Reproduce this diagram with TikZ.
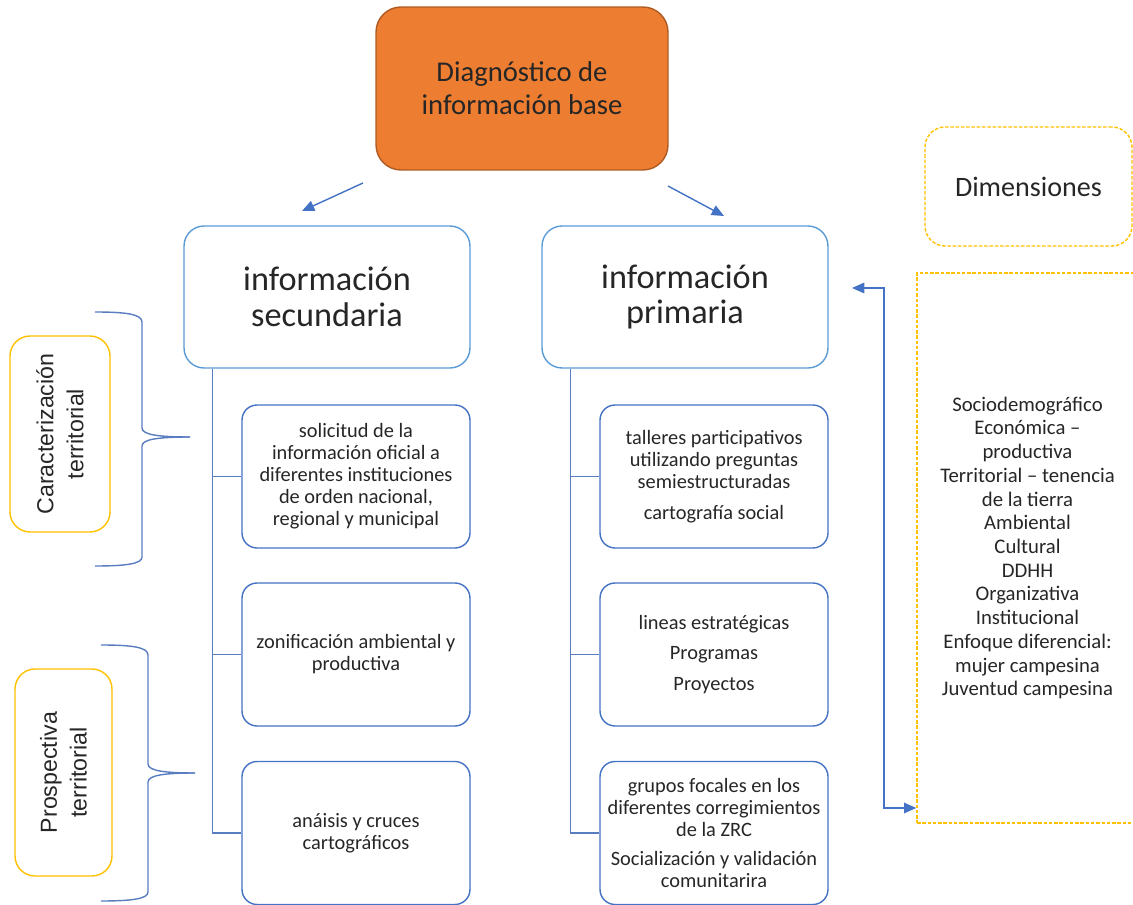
\documentclass[tikz,border=0pt]{standalone}
\usepackage{fontspec}
\setmainfont{Carlito}
\newfontfamily\sidefont{Liberation Sans}
\usepackage{xcolor}
\usetikzlibrary{arrows.meta}
\definecolor{diagfill}{HTML}{ED7D31}
\definecolor{diagline}{HTML}{AE5A21}
\definecolor{headline}{HTML}{5B9BD5}
\definecolor{itemline}{HTML}{4472C4}
\definecolor{sideline}{HTML}{FFC000}
\definecolor{treeline}{HTML}{5A7DC0}
\definecolor{txt}{HTML}{262626}

\begin{document}
\begin{tikzpicture}[x=0.02cm,y=-0.02cm,align=center,text=txt,
  top box/.style={draw=diagline,fill=diagfill,line width=0.8pt,rounded corners=0.5cm,minimum width=5.84cm,minimum height=3.26cm,font=\fontsize{16.3}{18.7}\selectfont},
  head box/.style={draw=headline,line width=0.8pt,rounded corners=0.4cm,minimum width=5.72cm,minimum height=2.84cm,font=\fontsize{19.5}{20.4}\selectfont},
  item box/.style={draw=itemline,line width=0.8pt,rounded corners=0.3cm,minimum width=4.56cm,minimum height=2.86cm,font=\fontsize{11.6}{12.5}\selectfont}]
\tikzstyle{side box} = [draw=sideline,line width=0.8pt,rounded corners=0.4cm,rotate=90,font=\sidefont\fontsize{13.2}{17}\selectfont]
\tikzstyle{dim box} = [draw=sideline,line width=0.8pt,dash pattern=on 2pt off 1pt]
\tikzstyle{tree} = [draw=treeline,line width=0.8pt]
\tikzstyle{link} = [draw=itemline,line width=0.8pt,-{Triangle[length=7pt,width=6pt]}]
\useasboundingbox (0,0) rectangle (1133,905);

% Main boxes
\node[top box] (diag) at (522,88.5) {Diagnóstico de\\información base};
\node[head box] (sec) at (327,297) {información\\secundaria};
\node[head box] (pri) at (685,297) {información\\primaria};

% Secondary information
\node[item box] (s1) at (356,476.5) {solicitud de la\\información oficial a\\diferentes instituciones\\de orden nacional,\\regional y municipal};
\node[item box] (s2) at (356,654.5) {zonificación ambiental y\\productiva};
\node[item box] (s3) at (356,833) {anáisis y cruces\\cartográficos};

% Primary information
\node[item box] (p1) at (714,476.5) {talleres participativos\\utilizando preguntas\\semiestructuradas\\[5pt]cartografía social};
\node[item box] (p2) at (714,654.5) {lineas estratégicas\\[5pt]Programas\\[5pt]Proyectos};
\node[item box] (p3) at (714,833) {grupos focales en los\\diferentes corregimientos\\de la ZRC\\[4pt]Socialización y validación\\comunitarira};

% Side labels
\node[side box,minimum width=3.92cm,minimum height=2cm] (car) at (60,434) {Caracterización\\territorial};
\node[side box,minimum width=4.14cm,minimum height=1.94cm] (pro) at (63.5,772.5) {Prospectiva\\territorial};

% Dimensions
\node[dim box,rounded corners=0.4cm,minimum width=4.14cm,minimum height=2.38cm,font=\fontsize{16}{18}\selectfont] (dimt) at (1028.5,186.5) {Dimensiones};
\node[dim box,minimum width=4.42cm,minimum height=11cm,font=\fontsize{11.8}{13.5}\selectfont] (dimp) at (1027.5,548) {Sociodemográfico\\Económica --\\productiva\\Territorial -- tenencia\\de la tierra\\Ambiental\\Cultural\\DDHH\\Organizativa\\Institucional\\Enfoque diferencial:\\mujer campesina\\Juventud campesina};

% Draw arrows
\coordinate (a1) at (363,183);
\coordinate (a2) at (302,211);
\coordinate (b1) at (668,186);
\coordinate (b2) at (724,216);
\draw[link] (a1) -- (a2);
\draw[link] (b1) -- (b2);
\coordinate (d1) at (852,288);
\coordinate (d2) at (884,808);
\draw[link,{Triangle[length=7pt,width=6pt]}-{Triangle[length=7pt,width=6pt]}] (d1) -| (d2) -- (d2 -| dimp.west);

% Draw trees
\coordinate (s0) at ([xshift=0.58cm]sec.south west);
\coordinate (p0) at ([xshift=0.58cm]pri.south west);
\draw[tree] (s0) |- (s1.west);
\draw[tree] (s0) |- (s2.west);
\draw[tree] (s0) |- (s3.west);
\draw[tree] (p0) |- (p1.west);
\draw[tree] (p0) |- (p2.west);
\draw[tree] (p0) |- (p3.west);

% Draw braces
\draw[tree] (95,312) .. controls (125,312) and (142,314) .. (142,322) -- (142,428) .. controls (142,435) and (160,437) .. (190,437);
\draw[tree] (190,437) .. controls (160,437) and (142,439) .. (142,446) -- (142,557) .. controls (142,564) and (125,566) .. (95,566);
\draw[tree] (101,645) .. controls (131,645) and (148,647) .. (148,655) -- (148,764) .. controls (148,771) and (166,773) .. (195,773);
\draw[tree] (195,773) .. controls (166,773) and (148,775) .. (148,782) -- (148,892) .. controls (148,899) and (131,901) .. (101,901);

\end{tikzpicture}
\end{document}
